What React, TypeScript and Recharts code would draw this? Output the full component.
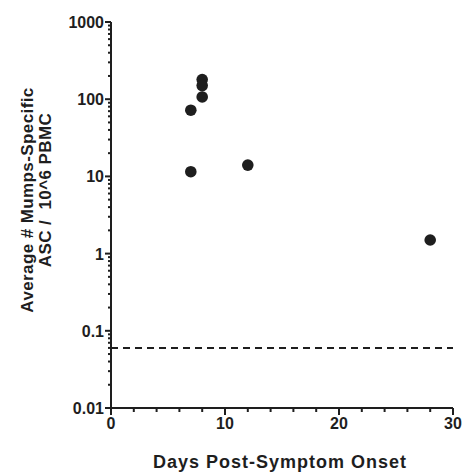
import { ComposedChart, Scatter, XAxis, YAxis, ReferenceLine } from 'recharts';

// days post-symptom onset vs average ASC per 10^6 PBMC
const days = [7, 7, 8, 8, 8, 12, 28];
const ascCounts = [72, 11.5, 180, 150, 107, 14, 1.5];
const detectionLimit = 0.06;

const yDecades = [0.01, 0.1, 1, 10, 100, 1000];
const yDecadeLabels = ['0.01', '0.1', '1', '10', '100', '1000'];
const minorMultipliers = [2, 3, 4, 5, 6, 7, 8, 9];
const xTicks = [0, 2, 4, 6, 8, 10, 12, 14, 16, 18, 20, 22, 24, 26, 28, 30];
const xMajor = [0, 10, 20, 30];

const yTicks = [
  ...yDecades,
  ...yDecades.slice(0, -1).flatMap((d) => minorMultipliers.map((m) => +(d * m).toPrecision(3))),
].sort((a, b) => a - b);

const data = days.map((d, i) => ({ day: d, asc: ascCounts[i] }));

const FONT = '"Liberation Sans", Arial, sans-serif';
const INK = '#1e1e1e';

// native tick lines are 3-4px; majors get an extra few px here
function YTick({ x, y, payload }: any) {
  const idx = yDecades.indexOf(payload.value);
  if (idx < 0) return <g />;
  return (
    <g>
      <line x1={x} x2={x - 3} y1={y} y2={y} stroke={INK} strokeWidth={2} />
      <text x={x - 4} y={y} dy={6} textAnchor="end" fontFamily={FONT} fontWeight="bold" fontSize={16} fill={INK}>
        {yDecadeLabels[idx]}
      </text>
    </g>
  );
}

function XTick({ x, y, payload }: any) {
  if (!xMajor.includes(payload.value)) return <g />;
  return (
    <g>
      <line x1={x} x2={x} y1={y} y2={y + 3} stroke={INK} strokeWidth={2} />
      <text x={x} y={y} dy={17} textAnchor="middle" fontFamily={FONT} fontWeight="bold" fontSize={16} fill={INK}>
        {payload.value}
      </text>
    </g>
  );
}

function YTitle() {
  return (
    <g fontFamily={FONT} fontWeight="bold" fontSize={17} fill={INK} letterSpacing={0.4}>
      <text x={27} y={200} textAnchor="middle" dominantBaseline="central" transform="rotate(-90 27 200)">
        Average # Mumps-Specific
      </text>
      <text x={45} y={190} textAnchor="middle" dominantBaseline="central" transform="rotate(-90 45 190)" style={{ whiteSpace: 'pre' }}>
        {'ASC /  10^6 PBMC'}
      </text>
    </g>
  );
}

function XTitle() {
  return (
    <text x={280} y={468} textAnchor="middle" fontFamily={FONT} fontWeight="bold" fontSize={18} letterSpacing={1} fill={INK}>
      Days Post-Symptom Onset
    </text>
  );
}

function Dot({ cx, cy }: any) {
  return <circle cx={cx} cy={cy} r={5.8} fill={INK} />;
}

export default function App() {
  return (
    <div style={{ position: 'absolute', left: 0, top: 0, background: '#fff' }}>
      <ComposedChart width={463} height={473} data={data} margin={{ top: 22, right: 10, left: 11, bottom: 5 }}>
        <XAxis
          dataKey="day"
          type="number"
          domain={[0, 30]}
          ticks={xTicks}
          interval={0}
          tickSize={4}
          tickMargin={0}
          tickLine={{ stroke: INK, strokeWidth: 2 }}
          tick={<XTick />}
          height={60}
          axisLine={{ stroke: INK, strokeWidth: 2 }}
          label={<XTitle />}
        />
        <YAxis
          dataKey="asc"
          type="number"
          scale="log"
          domain={[0.01, 1000]}
          ticks={yTicks}
          interval={0}
          tickSize={3}
          tickMargin={0}
          tickLine={{ stroke: INK, strokeWidth: 2 }}
          tick={<YTick />}
          width={100}
          axisLine={{ stroke: INK, strokeWidth: 2 }}
          label={<YTitle />}
          allowDataOverflow
        />
        <ReferenceLine y={detectionLimit} stroke={INK} strokeWidth={2} strokeDasharray="7 5" />
        <Scatter dataKey="asc" fill={INK} isAnimationActive={false} shape={<Dot />} />
      </ComposedChart>
    </div>
  );
}
